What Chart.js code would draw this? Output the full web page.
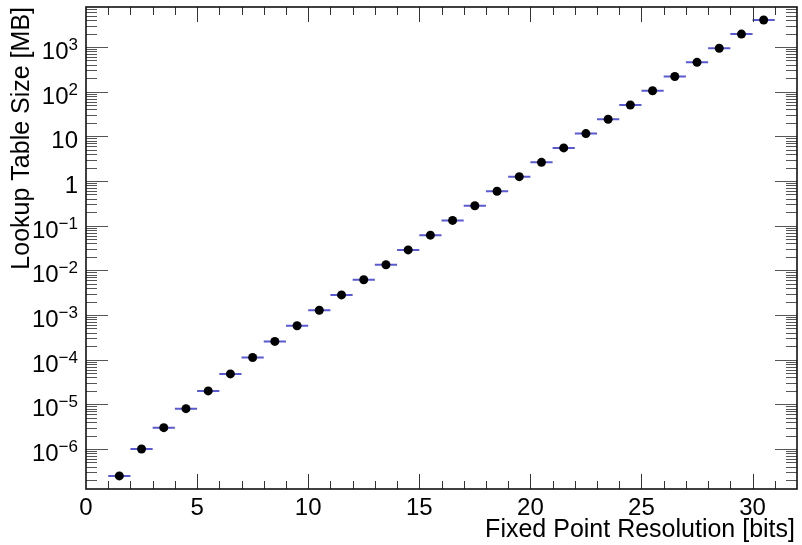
<!DOCTYPE html>
<html>
<head>
<meta charset="utf-8">
<script src="https://cdn.jsdelivr.net/npm/chart.js@4.4.1/dist/chart.umd.min.js"></script>
<style>
  html, body { margin: 0; padding: 0; background: #ffffff; }
  #wrap { width: 802px; height: 545px; position: relative; }
  canvas { display: block; }
</style>
</head>
<body>
<div id="wrap"><canvas id="c" width="802" height="545"></canvas></div>
<script>
// ---- data ----
const bitsBinLow = [1,2,3,4,5,6,7,8,9,10,11,12,13,14,15,16,17,18,19,20,21,22,23,24,25,26,27,28,29,30];
const tableSizeMB = [2.5e-7, 1.0e-6, 3.0e-6, 8.0e-6, 2.0e-5, 4.8e-5, 1.12e-4, 2.56e-4, 5.76e-4, 1.28e-3,
                     2.82e-3, 6.14e-3, 1.33e-2, 2.87e-2, 6.14e-2, 0.131, 0.279, 0.590, 1.25, 2.62,
                     5.51, 11.5, 24.1, 50.3, 105, 218, 453, 940, 1946, 4027];
const binWidth = 1;
const xTickValues = [0, 5, 10, 15, 20, 25, 30];
const xTickLabels = ['0', '5', '10', '15', '20', '25', '30'];
const yTickValues = [1e-6, 1e-5, 1e-4, 1e-3, 1e-2, 1e-1, 1, 10, 100, 1000];
const yTickLabels = ['10^−6', '10^−5', '10^−4', '10^−3', '10^−2', '10^−1', '1', '10', '10^2', '10^3'];
const xTitle = 'Fixed Point Resolution [bits]';
const yTitle = 'Lookup Table Size [MB]';
const xRange = [0, 32];
const yRange = [1.272e-7, 7862];

// ---- build datasets ----
const points = bitsBinLow.map((b, i) => ({ x: b + binWidth / 2, y: tableSizeMB[i] }));
const errBars = [];
bitsBinLow.forEach((b, i) => {
  errBars.push({ x: b, y: tableSizeMB[i] });
  errBars.push({ x: b + binWidth, y: tableSizeMB[i] });
  errBars.push({ x: b + binWidth, y: null });
});

const FONT = '"Liberation Sans", Arial, Helvetica, sans-serif';

const rootAxes = {
  id: 'rootAxes',
  afterDraw(chart) {
    const ctx = chart.ctx;
    const { left, top, right, bottom } = chart.chartArea;
    const xs = chart.scales.x, ys = chart.scales.y;
    ctx.save();
    // ticks
    ctx.strokeStyle = '#333';
    ctx.lineWidth = 1;
    ctx.beginPath();
    for (let v = Math.ceil(xRange[0]) + 1; v < xRange[1]; v++) {
      const px = Math.round(xs.getPixelForValue(v)) + 0.5;
      const len = (v % 5 === 0) ? 15 : 8;
      ctx.moveTo(px, bottom); ctx.lineTo(px, bottom - len);
      ctx.moveTo(px, top); ctx.lineTo(px, top + len);
    }
    ctx.stroke();
    ctx.beginPath();
    const mults = [1, 2, 3, 4, 5, 6, 7, 8, 9];
    for (let k = -8; k <= 4; k++) {
      mults.forEach(m => {
        const v = m * Math.pow(10, k);
        if (v <= yRange[0] || v >= yRange[1]) return;
        const py = Math.round(ys.getPixelForValue(v)) + 0.5;
        const len = (m === 1) ? 22 : 11;
        ctx.moveTo(left, py); ctx.lineTo(left + len, py);
        ctx.moveTo(right, py); ctx.lineTo(right - len, py);
      });
    }
    ctx.strokeStyle = '#555';
    ctx.stroke();
    // frame
    ctx.strokeStyle = '#111';
    ctx.lineWidth = 1.6;
    ctx.strokeRect(left, top, right - left, bottom - top);

    // x tick labels
    ctx.fillStyle = '#000';
    ctx.font = '24px ' + FONT;
    ctx.textAlign = 'center';
    ctx.textBaseline = 'alphabetic';
    xTickValues.forEach((v, i) => {
      ctx.fillText(xTickLabels[i], xs.getPixelForValue(v), bottom + 26);
    });
    // y tick labels
    yTickValues.forEach((v, i) => {
      const py = ys.getPixelForValue(v);
      const parts = yTickLabels[i].split('^');
      const rightEdge = 78;
      if (parts.length === 1) {
        ctx.font = '24px ' + FONT;
        ctx.textAlign = 'right';
        ctx.fillText(parts[0], rightEdge, py + 12);
      } else {
        ctx.font = '17px ' + FONT;
        const ew = ctx.measureText(parts[1]).width;
        ctx.textAlign = 'right';
        ctx.fillText(parts[1], rightEdge, py + 3);
        ctx.font = '24px ' + FONT;
        ctx.fillText(parts[0], rightEdge - ew, py + 12);
      }
    });
    // axis titles
    ctx.font = '25px ' + FONT;
    ctx.textAlign = 'right';
    ctx.fillText(xTitle, 795, 537);
    ctx.save();
    ctx.translate(29, 7);
    ctx.rotate(-Math.PI / 2);
    ctx.textAlign = 'right';
    ctx.fillText(yTitle, 0, 0);
    ctx.restore();
    ctx.restore();
  }
};

new Chart(document.getElementById('c'), {
  type: 'scatter',
  data: {
    datasets: [
      {
        label: 'size',
        data: points,
        pointRadius: 4.5,
        pointBackgroundColor: '#000',
        pointBorderColor: '#000',
        pointBorderWidth: 0,
        showLine: false
      },
      {
        label: 'bin',
        type: 'line',
        data: errBars,
        borderColor: '#5a5ad2',
        borderWidth: 2,
        pointRadius: 0,
        spanGaps: false,
        fill: false,
        tension: 0
      }
    ]
  },
  options: {
    responsive: false,
    animation: false,
    devicePixelRatio: 1,
    layout: { padding: { left: 86, top: 7, right: 5, bottom: 56 } },
    plugins: { legend: { display: false }, tooltip: { enabled: false } },
    scales: {
      x: { type: 'linear', min: xRange[0], max: xRange[1], display: false },
      y: { type: 'logarithmic', min: yRange[0], max: yRange[1], display: false }
    }
  },
  plugins: [rootAxes]
});
</script>
</body>
</html>
